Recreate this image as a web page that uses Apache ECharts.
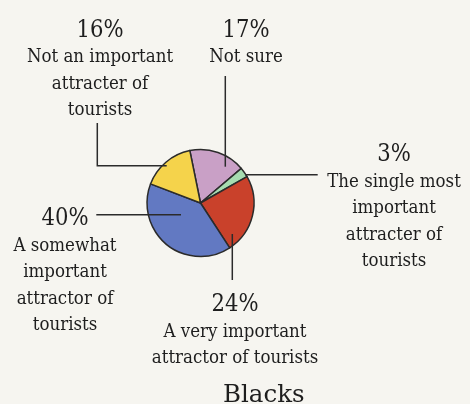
<!DOCTYPE html>
<html>
<head>
<meta charset="utf-8">
<script src="https://cdn.jsdelivr.net/npm/echarts@6/dist/echarts.min.js"></script>
<style>
  html, body { margin: 0; padding: 0; background: #f6f5f0; }
  #chart { width: 470px; height: 404px; }
</style>
</head>
<body>
<div id="chart"></div>
<script>
// Survey answers, listed clockwise from the top of the pie
const categories = [
  'Not sure',
  'The single most\nimportant\nattracter of\ntourists',
  'A very important\nattractor of tourists',
  'A somewhat\nimportant\nattractor of\ntourists',
  'Not an important\nattracter of\ntourists'
];
const shares = [17, 3, 24, 40, 16];
const sliceColors = ['#c9a0c6', '#a6dcb0', '#c9412b', '#6279c2', '#f5d34b'];
const chartTitle = 'Blacks';

// Where each label block sits and how its leader line runs (pixels)
const labelPlacement = [
  { x: 246, top: 16.4, line: [[225.3, 166.7], [225.3, 120], [225.3, 76]] },
  { x: 394, top: 140.8, line: [[245, 174.7], [280, 174.7], [317.7, 174.7]] },
  { x: 235, top: 290.8, line: [[232.3, 234], [232.3, 257], [232.3, 280]] },
  { x: 65, top: 204.8, line: [[181, 214.7], [140, 214.7], [96.3, 214.7]] },
  { x: 100, top: 16.4, line: [[166.7, 165.7], [97.3, 165.7], [97.3, 123]] }
];

const FONT = "'DejaVu Serif Condensed', 'Liberation Serif', serif";
const TITLE_FONT = "'DejaVu Serif', 'Liberation Serif', serif";
const INK = '#1e1e1e';
const PIE_CENTER = [200.5, 203];
const PIE_RADIUS = 53.5;
const START = 101.5;

const pieData = categories.map((name, i) => ({
  name: name,
  value: shares[i],
  itemStyle: { color: sliceColors[i] }
}));

const chart = echarts.init(document.getElementById('chart'), null, { renderer: 'canvas' });

chart.setOption({
  backgroundColor: '#f6f5f0',
  animation: false,
  title: {
    text: chartTitle,
    left: 223,
    top: 383,
    padding: 0,
    textStyle: { fontFamily: TITLE_FONT, fontSize: 24.5, fontWeight: 'normal', color: INK }
  },
  series: [
    {
      // the filled slices
      type: 'pie',
      z: 2,
      center: PIE_CENTER,
      radius: PIE_RADIUS,
      startAngle: START,
      clockwise: true,
      silent: true,
      data: pieData,
      itemStyle: { borderColor: '#2b2b2b', borderWidth: 1.5 },
      label: { show: false },
      labelLine: { show: false }
    },
    {
      // an invisible copy on top that carries the labels and leader lines
      type: 'pie',
      z: 3,
      center: PIE_CENTER,
      radius: PIE_RADIUS,
      startAngle: START,
      clockwise: true,
      silent: true,
      avoidLabelOverlap: false,
      data: categories.map((name, i) => ({ name: name, value: shares[i] })),
      itemStyle: { color: 'rgba(0,0,0,0)', borderWidth: 0 },
      label: {
        show: true,
        position: 'outside',
        fontFamily: FONT,
        color: INK,
        align: 'center',
        formatter: function (p) {
          const lines = p.name.split('\n').map(l => '{t|' + l + '}');
          return ['{p|' + p.value + '%}'].concat(lines).join('\n');
        },
        rich: {
          p: { fontFamily: FONT, fontSize: 23.5, lineHeight: 28, color: INK, align: 'center' },
          t: { fontFamily: FONT, fontSize: 18.5, lineHeight: 26.5, color: INK, align: 'center' }
        }
      },
      labelLine: {
        show: true,
        lineStyle: { color: '#2b2b2b', width: 1.5 }
      },
      labelLayout: function (params) {
        const pl = labelPlacement[params.dataIndex];
        return {
          x: pl.x,
          y: pl.top,
          align: 'center',
          verticalAlign: 'top',
          labelLinePoints: pl.line
        };
      }
    }
  ]
});
</script>
</body>
</html>
